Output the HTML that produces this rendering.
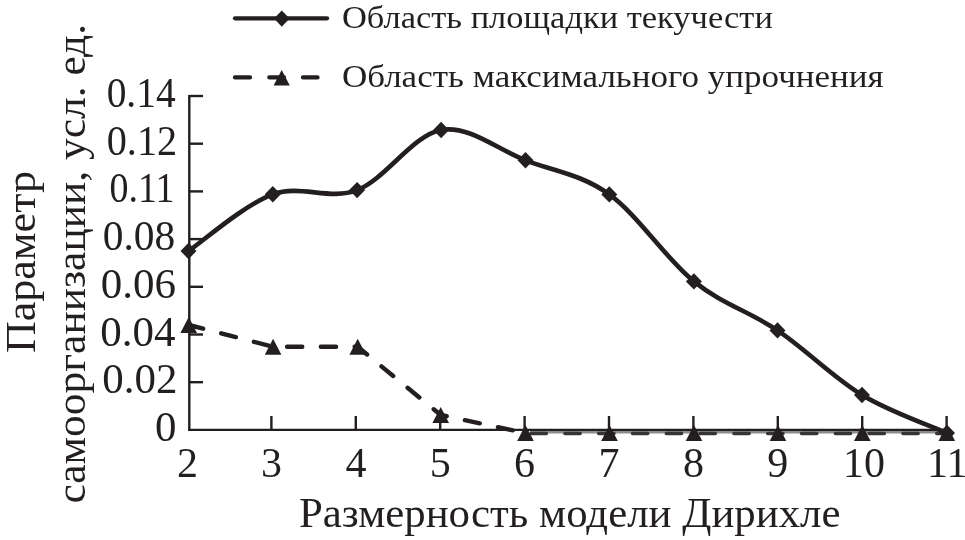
<!DOCTYPE html>
<html><head><meta charset="utf-8"><style>
html,body{margin:0;padding:0;background:#fff;}
svg{display:block;will-change:transform;}
</style></head><body>
<svg width="965" height="540" viewBox="0 0 965 540">
<rect width="965" height="540" fill="#fff"/>
<g stroke="#231f20" stroke-width="2.4" fill="none" stroke-linecap="butt">
<path d="M189.3,94.9 L189.3,431.09999999999997"/>
<path d="M188.10000000000002,429.9 L948,429.9"/>
<path d="M189.3,96.00 L203,96.00"/>
<path d="M189.3,143.70 L203,143.70"/>
<path d="M189.3,191.40 L203,191.40"/>
<path d="M189.3,239.10 L203,239.10"/>
<path d="M189.3,286.80 L203,286.80"/>
<path d="M189.3,334.50 L203,334.50"/>
<path d="M189.3,382.20 L203,382.20"/>
<path d="M271.40,429.9 L271.40,416"/>
<path d="M355.80,429.9 L355.80,416"/>
<path d="M440.20,429.9 L440.20,416"/>
<path d="M524.60,429.9 L524.60,416"/>
<path d="M609.00,429.9 L609.00,416"/>
<path d="M693.40,429.9 L693.40,416"/>
<path d="M777.80,429.9 L777.80,416"/>
<path d="M862.20,429.9 L862.20,416"/>
<path d="M946.60,429.9 L946.60,416"/>
</g>
<path d="M530,432.2 L941,432.2" stroke="#8d8b8c" stroke-width="2.4" fill="none"/>
<path d="M188.70,325.00 L273.10,346.70 L357.70,346.80 L440.70,415.00 L525.50,433.00" stroke="#231f20" stroke-width="4.4" fill="none" stroke-dasharray="15.2 18.6" stroke-dashoffset="0.3" stroke-linecap="round" stroke-linejoin="round"/>
<path d="M525.50,433.50 L609.50,433.50 L694.00,433.50 L778.00,433.50 L862.30,433.50 L946.80,433.50" stroke="#373435" stroke-width="3.6" fill="none" stroke-dasharray="15.2 18.6" stroke-dashoffset="366.16" stroke-linecap="round" stroke-linejoin="round"/>
<g fill="#231f20"><path d="M188.70,317.00 L197.00,333.00 L180.40,333.00Z"/><path d="M273.10,338.70 L281.40,354.70 L264.80,354.70Z"/><path d="M357.70,338.80 L366.00,354.80 L349.40,354.80Z"/><path d="M440.70,407.00 L449.00,423.00 L432.40,423.00Z"/><path d="M525.50,425.00 L533.80,441.00 L517.20,441.00Z"/><path d="M609.50,425.00 L617.80,441.00 L601.20,441.00Z"/><path d="M694.00,425.00 L702.30,441.00 L685.70,441.00Z"/><path d="M778.00,425.00 L786.30,441.00 L769.70,441.00Z"/><path d="M862.30,425.00 L870.60,441.00 L854.00,441.00Z"/><path d="M946.80,425.00 L955.10,441.00 L938.50,441.00Z"/></g>
<path d="M188.50,251.00 C202.55,241.55 244.70,204.45 272.80,194.30 C300.90,184.15 329.05,200.82 357.10,190.10 C385.15,179.38 413.03,134.97 441.10,130.00 C469.17,125.03 497.47,149.57 525.50,160.30 C553.53,171.03 581.23,174.22 609.30,194.40 C637.37,214.58 665.87,258.73 693.90,281.40 C721.93,304.07 749.48,311.47 777.50,330.40 C805.52,349.33 833.75,377.90 862.00,395.00 C890.25,412.10 932.83,426.67 947.00,433.00" stroke="#231f20" stroke-width="4.6" fill="none" stroke-linejoin="round"/>
<g fill="#231f20"><path d="M188.50,242.80 L196.50,251.00 L188.50,259.20 L180.50,251.00Z"/><path d="M272.80,186.10 L280.80,194.30 L272.80,202.50 L264.80,194.30Z"/><path d="M357.10,181.90 L365.10,190.10 L357.10,198.30 L349.10,190.10Z"/><path d="M441.10,121.80 L449.10,130.00 L441.10,138.20 L433.10,130.00Z"/><path d="M525.50,152.10 L533.50,160.30 L525.50,168.50 L517.50,160.30Z"/><path d="M609.30,186.20 L617.30,194.40 L609.30,202.60 L601.30,194.40Z"/><path d="M693.90,273.20 L701.90,281.40 L693.90,289.60 L685.90,281.40Z"/><path d="M777.50,322.20 L785.50,330.40 L777.50,338.60 L769.50,330.40Z"/><path d="M862.00,386.80 L870.00,395.00 L862.00,403.20 L854.00,395.00Z"/><path d="M947.00,424.80 L955.00,433.00 L947.00,441.20 L939.00,433.00Z"/></g>
<g stroke="#231f20" stroke-width="4.3" stroke-linecap="round" fill="none">
<path d="M235,18.3 L327,18.3"/>
<path d="M235,77.4 L250,77.4 M269.3,77.4 L284,77.4 M303,77.4 L317.5,77.4"/>
</g>
<g fill="#231f20"><path d="M281.80,10.50 L289.60,18.60 L281.80,26.70 L274.00,18.60Z"/><path d="M281.70,69.90 L289.80,85.50 L273.60,85.50Z"/></g>
<g font-family='"Liberation Serif", serif' fill='#231f20'>
<text transform="translate(175.63,107.00) scale(0.939,1)" font-size="42" text-anchor="end">0.14</text>
<text transform="translate(177.17,154.70) scale(0.959,1)" font-size="42" text-anchor="end">0.12</text>
<text transform="translate(174.50,202.40) scale(0.903,1)" font-size="42" text-anchor="end">0.11</text>
<text transform="translate(175.27,250.10) scale(0.987,1)" font-size="42" text-anchor="end">0.08</text>
<text transform="translate(176.05,297.80) scale(1.024,1)" font-size="42" text-anchor="end">0.06</text>
<text transform="translate(175.53,345.50) scale(1.024,1)" font-size="42" text-anchor="end">0.04</text>
<text transform="translate(177.37,393.20) scale(1.022,1)" font-size="42" text-anchor="end">0.02</text>
<text transform="translate(176.35,440.90) scale(1.022,1)" font-size="42" text-anchor="end">0</text>
<text x="187.50" y="477.2" font-size="42" text-anchor="middle">2</text>
<text x="271.50" y="477.2" font-size="42" text-anchor="middle">3</text>
<text x="355.90" y="477.2" font-size="42" text-anchor="middle">4</text>
<text x="440.20" y="477.2" font-size="42" text-anchor="middle">5</text>
<text x="524.60" y="477.2" font-size="42" text-anchor="middle">6</text>
<text x="609.00" y="477.2" font-size="42" text-anchor="middle">7</text>
<text x="693.40" y="477.2" font-size="42" text-anchor="middle">8</text>
<text x="777.80" y="477.2" font-size="42" text-anchor="middle">9</text>
<text x="864.00" y="477.2" font-size="42" text-anchor="middle">10</text>
<text x="947.30" y="477.2" font-size="42" text-anchor="middle">11</text>
<text x="299" y="526.8" font-size="41.3" textLength="541.5" lengthAdjust="spacingAndGlyphs">Размерность модели Дирихле</text>
<text x="341.9" y="27.9" font-size="32.3" textLength="431" lengthAdjust="spacingAndGlyphs">Область площадки текучести</text>
<text x="341.9" y="87" font-size="32.3" textLength="541.8" lengthAdjust="spacingAndGlyphs">Область максимального упрочнения</text>
<text transform="translate(35,353) rotate(-90)" font-size="42.5" textLength="181.9" lengthAdjust="spacingAndGlyphs">Параметр</text>
<text transform="translate(85.2,503.6) rotate(-90)" font-size="42.5" textLength="479.7" lengthAdjust="spacingAndGlyphs">самоорганизации, усл. ед.</text>
</g>
</svg>
</body></html>
